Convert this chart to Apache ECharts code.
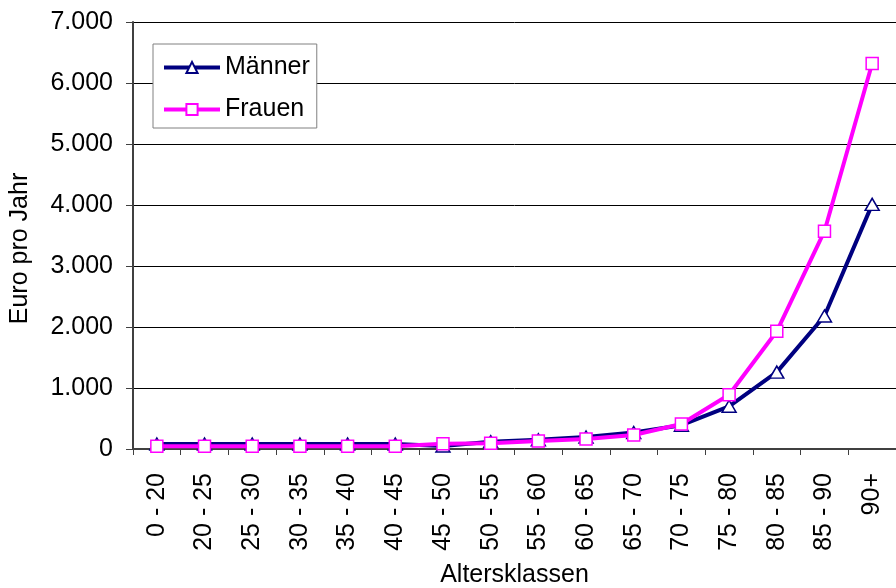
<!DOCTYPE html>
<html>
<head>
<meta charset="utf-8">
<script src="https://cdn.jsdelivr.net/npm/echarts@6/dist/echarts.min.js"></script>
<style>
  html, body { margin: 0; padding: 0; background: #fff; }
  #chart { width: 896px; height: 588px; }
</style>
</head>
<body>
<div id="chart"></div>
<script>
// Age brackets on the category axis
const categories = ['0 - 20', '20 - 25', '25 - 30', '30 - 35', '35 - 40', '40 - 45', '45 - 50',
  '50 - 55', '55 - 60', '60 - 65', '65 - 70', '70 - 75', '75 - 80', '80 - 85', '85 - 90', '90+'];

// Euro per year by age bracket
const maenner = [80, 80, 80, 80, 80, 80, 50, 120, 150, 195, 270, 390, 700, 1260, 2180, 4010];
const frauen  = [45, 45, 45, 45, 45, 45, 85, 95, 130, 165, 230, 410, 890, 1930, 3570, 6320];

const yTicks = { min: 0, max: 7000, interval: 1000 };

const FONT = 'Liberation Sans, Arial, sans-serif';
const FS = 25;

function fmtThousands(v) {
  return String(v).replace(/\B(?=(\d{3})+(?!\d))/g, '.');
}

const chart = echarts.init(document.getElementById('chart'), null, { renderer: 'canvas' });

chart.setOption({
  animation: false,
  backgroundColor: '#fff',
  textStyle: { fontFamily: FONT },
  grid: { left: 133, right: 0, top: 22, bottom: 139, containLabel: false, outerBoundsMode: 'none' },
  legend: {
    orient: 'vertical',
    left: 153,
    top: 44,
    padding: [11, 7, 6, 9],
    itemGap: 17,
    itemWidth: 56,
    itemHeight: 14,
    backgroundColor: '#fff',
    borderColor: '#808080',
    borderWidth: 1,
    borderRadius: 0,
    lineStyle: { width: 4 },
    textStyle: { fontFamily: FONT, fontSize: FS, color: '#000' },
    data: ['Männer', 'Frauen']
  },
  xAxis: {
    type: 'category',
    data: categories,
    boundaryGap: true,
    name: 'Altersklassen',
    nameLocation: 'middle',
    nameGap: 114,
    nameTextStyle: { fontFamily: FONT, fontSize: FS, color: '#000' },
    axisLine: { show: true, lineStyle: { color: '#404040', width: 2 } },
    axisTick: { show: true, inside: false, length: 6, alignWithLabel: false, lineStyle: { color: '#404040', width: 1 } },
    axisLabel: { rotate: 90, margin: 24, fontFamily: FONT, fontSize: FS, color: '#000', interval: 0 },
    splitLine: { show: false }
  },
  yAxis: {
    type: 'value',
    min: yTicks.min,
    max: yTicks.max,
    interval: yTicks.interval,
    name: 'Euro pro Jahr',
    nameLocation: 'middle',
    nameGap: 100,
    nameTextStyle: { fontFamily: FONT, fontSize: FS, color: '#000', padding: [0, 26, 0, 0] },
    axisLine: { show: true, lineStyle: { color: '#404040', width: 2 } },
    axisTick: { show: true, inside: false, length: 7, lineStyle: { color: '#404040', width: 1 } },
    axisLabel: { margin: 20, fontFamily: FONT, fontSize: FS, color: '#000', formatter: fmtThousands },
    splitLine: { show: true, lineStyle: { color: '#000', width: 1 } }
  },
  series: [
    {
      name: 'Männer',
      type: 'line',
      data: maenner,
      symbol: 'triangle',
      symbolSize: [14, 12],
      showAllSymbol: true,
      lineStyle: { color: '#000080', width: 4 },
      itemStyle: { color: '#fff', borderColor: '#000080', borderWidth: 1.5 },
      z: 2
    },
    {
      name: 'Frauen',
      type: 'line',
      data: frauen,
      symbol: 'rect',
      symbolSize: 12,
      showAllSymbol: true,
      lineStyle: { color: '#FF00FF', width: 4 },
      itemStyle: { color: '#fff', borderColor: '#FF00FF', borderWidth: 1.5 },
      z: 3
    }
  ]
});
</script>
</body>
</html>
